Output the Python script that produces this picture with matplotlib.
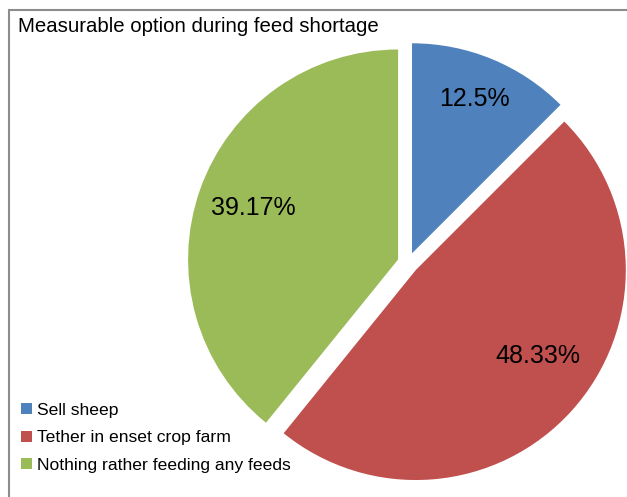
import numpy as np
import matplotlib.pyplot as plt
from matplotlib.patches import Rectangle

# data
labels = ["Sell sheep", "Tether in enset crop farm", "Nothing rather feeding any feeds"]
shares = [12.5, 48.33, 39.17]
colors = ["#4F81BD", "#C0504D", "#9BBB59"]

plt.rcParams['font.family'] = ['Liberation Sans', 'DejaVu Sans']

W, H = 627, 497
fig = plt.figure(figsize=(W / 100, H / 100), dpi=100)

# pie axes: centre (408, 263) px, radius 210 px
cx, cy, r = 408, 263, 210
half = 1.1 * r
ax = fig.add_axes([(cx - half) / W, (H - cy - half) / H, 2 * half / W, 2 * half / H])

def fmt(p):
    return f"{p:.2f}".rstrip('0').rstrip('.') + "%"

wedges, texts, autotexts = ax.pie(
    shares, colors=colors, startangle=90, counterclock=False,
    explode=[0.05, 0.05, 0.05], autopct=fmt, pctdistance=0.73,
    textprops={'fontsize': 18, 'color': 'black'},
)
ax.set_xlim(-1.1, 1.1)
ax.set_ylim(-1.1, 1.1)

# nudge label placement (angle in degrees, distance from slice tip)
for i, (a, d) in {0: (68, 0.79), 1: (-35, 0.71)}.items():
    wx, wy = wedges[i].center
    t = np.deg2rad(a)
    autotexts[i].set_position((wx + d * np.cos(t), wy + d * np.sin(t)))

# chart title
fig.text(18 / W, 1 - 27 / H, "Measurable option during feed shortage",
         fontsize=14.7, va='center', ha='left')

# legend in the lower left
fig.legend(wedges, labels, loc='lower left', bbox_to_anchor=(21 / W, 24 / H),
           frameon=False, fontsize=12.6, handlelength=0.6, handleheight=0.6,
           handletextpad=0.3, labelspacing=0.72, borderpad=0, borderaxespad=0)

# chart border (top and left edges visible)
fig.patches.append(Rectangle((9 / W, -0.1), 1.2, 1 - 10 / H + 0.1,
                             transform=fig.transFigure, fill=False,
                             edgecolor='#8c8c8c', linewidth=1.5))

fig.savefig("out.png", dpi=100)
